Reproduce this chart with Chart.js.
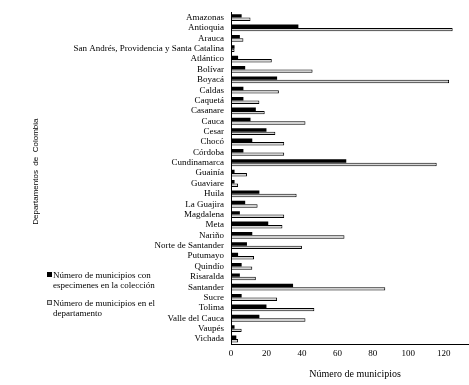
<!DOCTYPE html>
<html>
<head>
<meta charset="utf-8">
<script src="https://cdn.jsdelivr.net/npm/chart.js@4"></script>
<style>
  html, body { margin: 0; padding: 0; background: #fff; overflow: hidden; width: 469px; height: 385px; }
  #wrap { position: relative; width: 490px; height: 385px; }
  #leyenda { position: absolute; left: 47px; top: 270px; font: 9px "Liberation Serif", serif; line-height: 10px; color: #000; }
  .item { position: relative; padding-left: 6px; }
  .cuadro { position: absolute; left: 0; top: 2px; width: 5px; height: 5px; box-sizing: border-box; }
</style>
</head>
<body>
<div id="wrap">
  <canvas id="chart"></canvas>
  <div id="leyenda"></div>
</div>
<script>
// Datos
const departamentos = ["Amazonas", "Antioquia", "Arauca", "San Andrés, Providencia y Santa Catalina", "Atlántico",
  "Bolívar", "Boyacá", "Caldas", "Caquetá", "Casanare", "Cauca", "Cesar", "Chocó", "Córdoba", "Cundinamarca",
  "Guainía", "Guaviare", "Huila", "La Guajira", "Magdalena", "Meta", "Nariño", "Norte de Santander", "Putumayo",
  "Quindío", "Risaralda", "Santander", "Sucre", "Tolima", "Valle del Cauca", "Vaupés", "Vichada"];
const conEspecimenes = [6, 38, 5, 2, 4, 8, 26, 7, 7, 14, 11, 20, 12, 7, 65, 2, 2, 16, 8, 5, 21, 12, 9, 4, 6, 5, 35, 6, 20, 16, 2, 3];
const totalMunicipios = [11, 125, 7, 2, 23, 46, 123, 27, 16, 19, 42, 25, 30, 30, 116, 9, 4, 37, 15, 30, 29, 64, 40, 13, 12, 14, 87, 26, 47, 42, 6, 4];
const etiquetasSerie = [["Número de municipios con", "especimenes en la colección"], ["Número de municipios en el", "departamento"]];
const ticksX = [0, 20, 40, 60, 80, 100, 120, 140];

const fuenteSerif = "'Liberation Serif', 'Times New Roman', serif";

const chartData = {
  labels: departamentos,
  datasets: [
    {
      label: etiquetasSerie[0].join(" "),
      data: conEspecimenes,
      backgroundColor: "#000000",
      borderWidth: 0,
    },
    {
      label: etiquetasSerie[1].join(" "),
      data: totalMunicipios,
      backgroundColor: "#d6d6d6",
      borderColor: "#000000",
      borderWidth: 1,
      borderSkipped: false,
    },
  ],
};

const chartOptions = {
  indexAxis: "y",
  responsive: true,
  maintainAspectRatio: false,
  animation: false,
  datasets: { bar: { categoryPercentage: 0.66, barPercentage: 1.0 } },
  layout: { padding: { top: 9, right: 8, bottom: 0, left: 0 } },
  plugins: { legend: { display: false }, tooltip: { enabled: false } },
  scales: {
    x: {
      min: 0,
      max: 140,
      grid: { display: false, drawTicks: false },
      border: { display: true, color: "#000", width: 1 },
      afterBuildTicks: (scale) => {
        scale.ticks = ticksX.map((v) => ({ value: v }));
      },
      ticks: { color: "#000", padding: 4, font: { family: fuenteSerif, size: 9 } },
      title: {
        display: true,
        text: "Número de municipios",
        color: "#000",
        font: { family: fuenteSerif, size: 10 },
        padding: { top: 5, bottom: 5 },
      },
    },
    y: {
      grid: { display: false, drawTicks: false },
      border: { display: true, color: "#000", width: 1 },
      ticks: { color: "#000", padding: 7, autoSkip: false, font: { family: fuenteSerif, size: 9 } },
      title: {
        display: true,
        text: "      Departamentos  de  Colombia",
        color: "#000",
        font: { family: "'Liberation Sans', Arial, sans-serif", size: 8 },
        padding: { top: 31, bottom: 0 },
      },
      afterFit: (scale) => {
        scale.width = 231;
      },
    },
  },
};

const chart = new Chart(document.getElementById("chart"), {
  type: "bar",
  data: chartData,
  options: chartOptions,
});

// Leyenda a la izquierda, como en la figura
const leyenda = document.getElementById("leyenda");
chartData.datasets.forEach((ds, i) => {
  const item = document.createElement("div");
  item.className = "item";
  if (i > 0) item.style.marginTop = "8px";
  const cuadro = document.createElement("span");
  cuadro.className = "cuadro";
  cuadro.style.background = ds.backgroundColor;
  if (ds.borderWidth) cuadro.style.border = "1px solid #555";
  item.appendChild(cuadro);
  etiquetasSerie[i].forEach((linea) => {
    const l = document.createElement("div");
    l.textContent = linea;
    item.appendChild(l);
  });
  leyenda.appendChild(item);
});
</script>
</body>
</html>
